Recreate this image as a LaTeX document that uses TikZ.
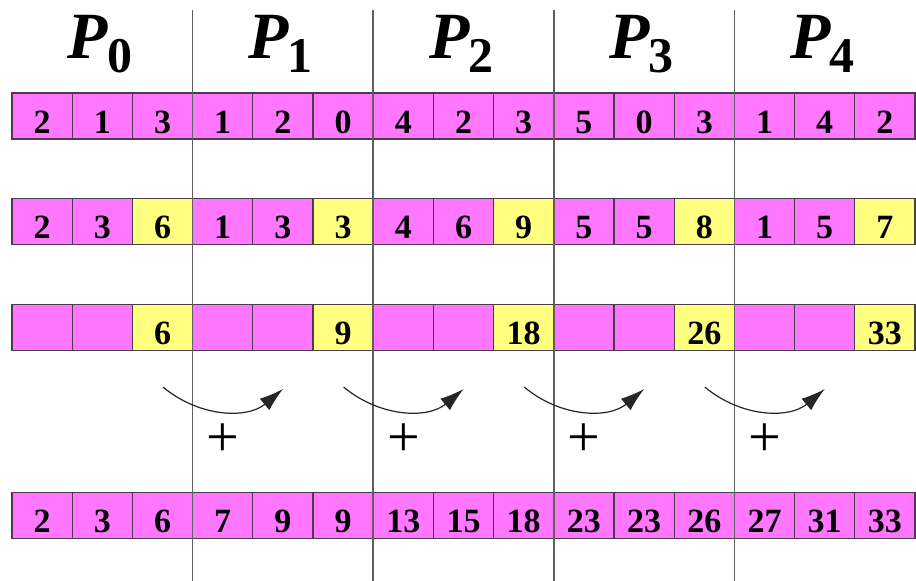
\documentclass[tikz,border=0pt]{standalone}
\usepackage{fontspec}
\setmainfont{Liberation Serif}
\usetikzlibrary{arrows.meta}
\definecolor{pmag}{RGB}{255,119,255}
\definecolor{pyel}{RGB}{255,255,128}
\definecolor{edgec}{RGB}{75,60,75}
\definecolor{sepc}{RGB}{95,95,95}
\begin{document}
\begin{tikzpicture}[x=1pt,y=-1pt,
  cell/.style={draw=edgec,line width=1.1pt,minimum width=60.2pt,minimum height=46pt,
    inner sep=0pt,outer sep=0pt,anchor=north west,text height=34pt,text depth=0pt,
    font=\fontsize{34}{34}\selectfont\bfseries},
  mag/.style={cell,fill=pmag},
  yel/.style={cell,fill=pyel},
  sep/.style={draw=sepc,line width=1.5pt},
  carry/.style={draw=black!85,line width=1.2pt,-{Latex[length=24pt,width=15pt]}},
  plus/.style={font=\fontsize{58}{58}\selectfont,inner sep=0pt},
  proc/.style={anchor=base,inner sep=0pt}]
\useasboundingbox (0,0) rectangle (916,581);
% separators
\foreach \k in {1,2,3,4}{
  \coordinate (st\k) at ({12+180.6*\k},10);
  \coordinate (sb\k) at ({12+180.6*\k},581);
}
% rows
\foreach \v [count=\i] in {2,1,3,1,2,0,4,2,3,5,0,3,1,4,2}
  \node[mag] (a\i) at ({12+60.2*(\i-1)},93) {\v};
\foreach \v/\s [count=\i] in {2/mag,3/mag,6/yel,1/mag,3/mag,3/yel,4/mag,6/mag,9/yel,5/mag,5/mag,8/yel,1/mag,5/mag,7/yel}
  \node[\s] (b\i) at ({12+60.2*(\i-1)},198.5) {\v};
\foreach \v/\s [count=\i] in {/mag,/mag,6/yel,/mag,/mag,9/yel,/mag,/mag,18/yel,/mag,/mag,26/yel,/mag,/mag,33/yel}
  \node[\s] (c\i) at ({12+60.2*(\i-1)},304.5) {\v};
\foreach \v [count=\i] in {2,3,6,7,9,9,13,15,18,23,23,26,27,31,33}
  \node[mag] (d\i) at ({12+60.2*(\i-1)},492.5) {\v};
\foreach \k in {1,2,3,4}
  \draw[sep] (st\k) -- (sb\k);
% processor labels
\foreach \k in {0,1,2,3,4}
  \node[proc] (p\k) at ({100+180.6*\k},58)
    {\fontsize{66}{66}\selectfont\bfseries\itshape P\kern-1pt\raisebox{-14pt}{\fontsize{50}{50}\selectfont\upshape\k}};
% carries
\foreach \k in {0,1,2,3}{
  \coordinate (cs\k) at ({163+180.6*\k},387);
  \coordinate (ce\k) at ({283+180.6*\k},389);
  \draw[carry] (cs\k) to[out=-40,in=-140] (ce\k);
  \node[plus] (pl\k) at ({223+180.6*\k},440) {+};
}
\end{tikzpicture}
\end{document}
